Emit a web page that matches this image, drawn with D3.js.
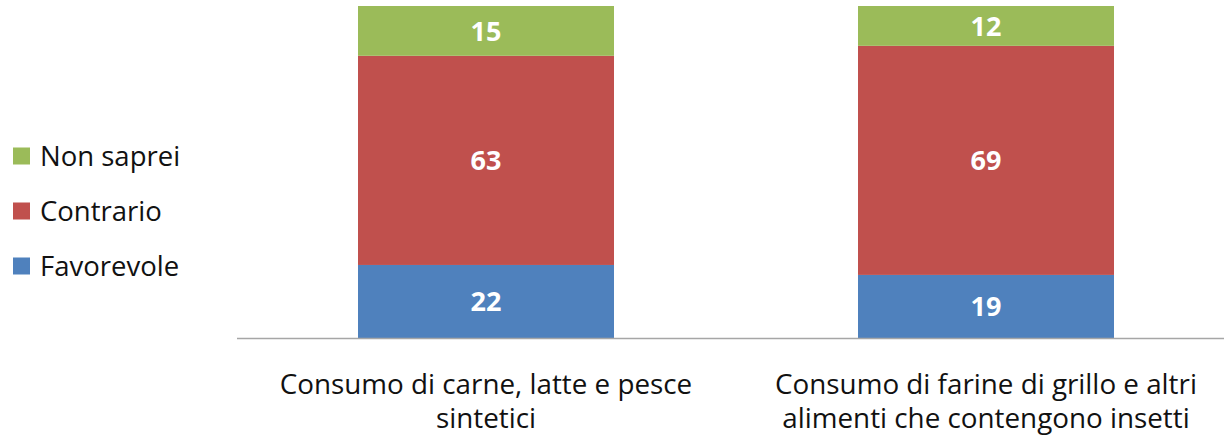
<!DOCTYPE html>
<html>
<head>
<meta charset="utf-8">
<script src="https://cdn.jsdelivr.net/npm/d3@7"></script>
<style>
  body { margin: 0; background: #fff; }
  text { font-family: "Open Sans", sans-serif; }
</style>
</head>
<body>
<svg width="1224" height="435"></svg>
<script>
// data
var categories = ["Consumo di carne, latte e pesce sintetici",
                  "Consumo di farine di grillo e altri alimenti che contengono insetti"];
var labelLines = [["Consumo di carne, latte e pesce", "sintetici"],
                  ["Consumo di farine di grillo e altri", "alimenti che contengono insetti"]];
var seriesNames = ["Favorevole", "Contrario", "Non saprei"];
var favorevole = [22, 19];
var contrario = [63, 69];
var nonSaprei = [15, 12];
var colors = ["#4F81BD", "#C0504D", "#9BBB59"];

var svg = d3.select("svg");

var rows = categories.map(function(c, i) {
  return {cat: c, "Favorevole": favorevole[i], "Contrario": contrario[i], "Non saprei": nonSaprei[i]};
});

var x = d3.scaleBand()
    .domain(categories)
    .range([236, 1236])
    .paddingInner(0.488)
    .paddingOuter(0.244);

var y = d3.scaleLinear()
    .domain([0, 100])
    .range([338, 6]);

var color = d3.scaleOrdinal().domain(seriesNames).range(colors);

var stack = d3.stack().keys(seriesNames)(rows);

// bars
var layer = svg.append("g")
  .selectAll("g")
  .data(stack)
  .enter()
  .append("g")
    .attr("fill", function(d){ return color(d.key) });

layer.selectAll("rect")
  .data(function(d){ return d })
  .enter()
  .append("rect")
    .attr("x", function(d){ return x(d.data.cat) })
    .attr("y", function(d){ return y(d[1]) })
    .attr("width", x.bandwidth())
    .attr("height", function(d){ return y(d[0]) - y(d[1]) });

// value labels
layer.selectAll("text")
  .data(function(d){ return d })
  .enter()
  .append("text")
    .attr("x", function(d){ return x(d.data.cat) + x.bandwidth()/2 })
    .attr("y", function(d){ return (y(d[0]) + y(d[1]))/2 })
    .attr("dy", "0.36em")
    .attr("text-anchor", "middle")
    .attr("fill", "#fff")
    .attr("font-weight", "bold")
    .attr("font-size", 27)
    .text(function(d){ return d[1] - d[0] });

// axis line
svg.append("line")
  .attr("x1", 237).attr("x2", 1224)
  .attr("y1", 338.5).attr("y2", 338.5)
  .attr("stroke", "#a6a6a6")
  .attr("stroke-width", 1.5);

// category labels
categories.forEach(function(c, i) {
  var t = svg.append("text")
    .attr("text-anchor", "middle")
    .attr("font-size", 27.8)
    .attr("fill", "#111");
  labelLines[i].forEach(function(line, j) {
    t.append("tspan")
      .attr("x", x(c) + x.bandwidth()/2)
      .attr("y", 394 + j * 34)
      .text(line);
  });
});

// legend
var legendOrder = seriesNames.slice().reverse();
var legend = svg.append("g")
  .selectAll("g")
  .data(legendOrder)
  .enter()
  .append("g")
    .attr("transform", function(d, i){ return "translate(13," + (156 + i*55) + ")" });

legend.append("rect")
  .attr("x", 0).attr("y", -8.5)
  .attr("width", 17).attr("height", 17)
  .attr("fill", function(d){ return color(d) });

legend.append("text")
  .attr("x", 27)
  .attr("dy", "0.36em")
  .attr("font-size", 27.5)
  .attr("fill", "#111")
  .text(function(d){ return d });
</script>
</body>
</html>
